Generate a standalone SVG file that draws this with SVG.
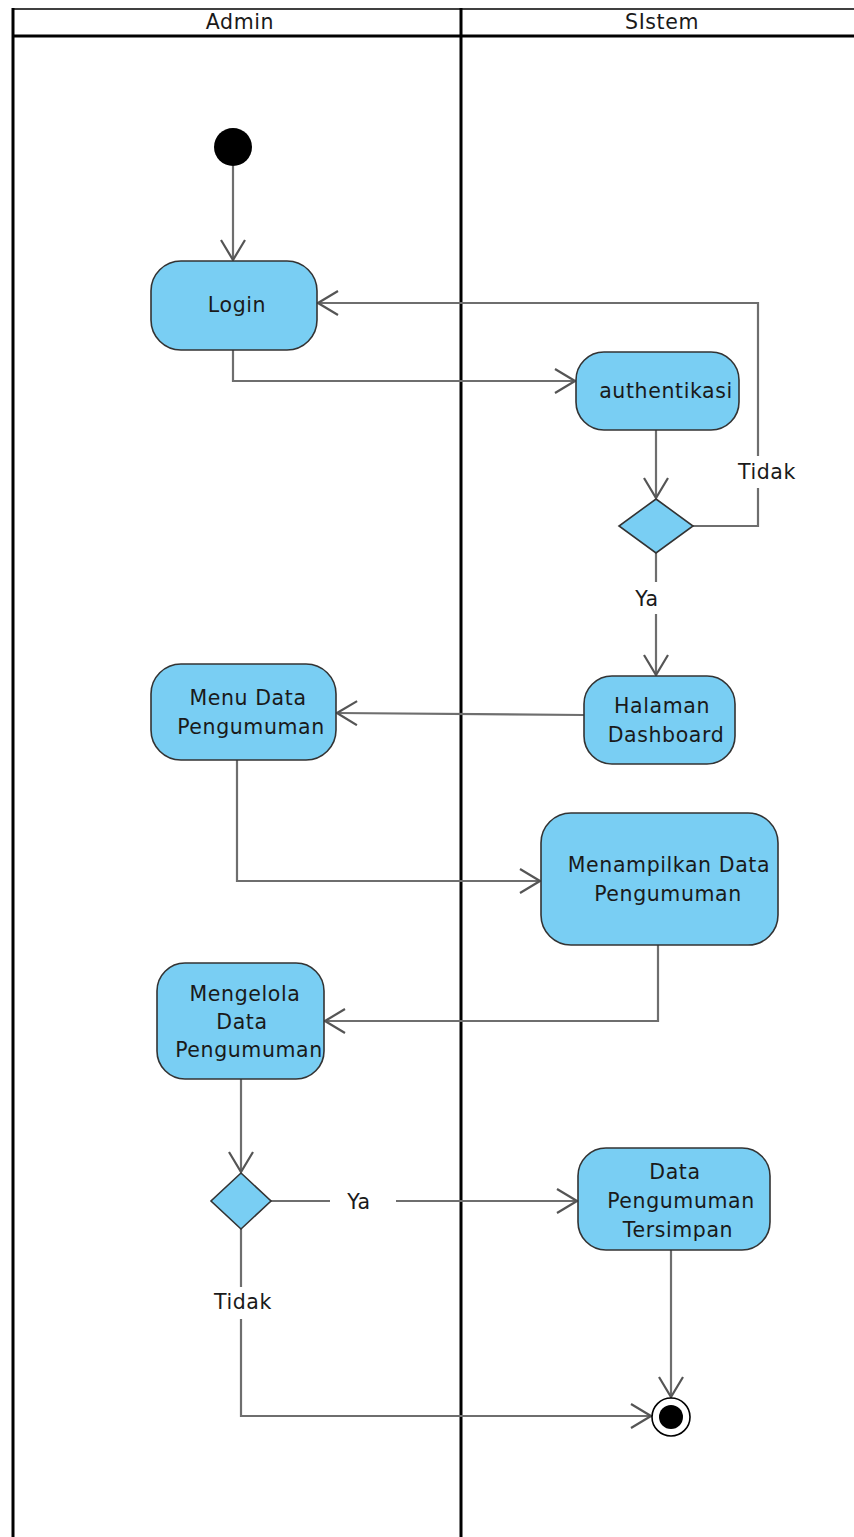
<svg xmlns="http://www.w3.org/2000/svg" width="854" height="1537" viewBox="0 0 854 1537">
<style>
.lane{stroke:#000;stroke-width:3;fill:none}
.node{fill:#79CEF3;stroke:#333;stroke-width:1.6}
.t{font-family:"DejaVu Sans",sans-serif;font-size:20.5px;letter-spacing:0.6px;fill:#1a1a1a;text-anchor:middle;dominant-baseline:central}
.c{fill:none;stroke:#6e6e6e;stroke-width:2.2}
.lbl{fill:#fff;stroke:none}
</style>
<defs>
<marker id="arr" viewBox="0 0 22 26" refX="21" refY="13" markerWidth="22" markerHeight="26" markerUnits="userSpaceOnUse" orient="auto">
<path d="M1,1 L21,13 L1,25" fill="none" stroke="#555" stroke-width="2.2"/>
</marker>
</defs>
<rect width="854" height="1537" fill="#fff"/>
<g id="lanes">
<line x1="13" y1="9" x2="854" y2="9" stroke="#000" stroke-width="1.5"/>
<line class="lane" x1="13" y1="36" x2="854" y2="36"/>
<line class="lane" x1="13" y1="8" x2="13" y2="1537"/>
<line class="lane" x1="461" y1="8" x2="461" y2="1537"/>
<text class="t" x="240" y="22">Admin</text>
<text class="t" x="662" y="22">SIstem</text>
</g>
<g id="connectors">
<path class="c" d="M233,166 L233,260" marker-end="url(#arr)"/>
<path class="c" d="M233,350 L233,381 L575,381" marker-end="url(#arr)"/>
<path class="c" d="M656,430 L656,498" marker-end="url(#arr)"/>
<path class="c" d="M693,526 L758,526 L758,303 L318,303" marker-end="url(#arr)"/>
<rect class="lbl" x="736" y="456" width="62" height="32"/>
<text class="t" x="767" y="472">Tidak</text>
<path class="c" d="M656,553 L656,675" marker-end="url(#arr)"/>
<rect class="lbl" x="630" y="582" width="34" height="32"/>
<text class="t" x="647" y="599">Ya</text>
<path class="c" d="M584,715 L337,713" marker-end="url(#arr)"/>
<path class="c" d="M237,760 L237,881 L540,881" marker-end="url(#arr)"/>
<path class="c" d="M658,945 L658,1021 L325,1021" marker-end="url(#arr)"/>
<path class="c" d="M241,1079 L241,1172" marker-end="url(#arr)"/>
<path class="c" d="M271,1201 L577,1201" marker-end="url(#arr)"/>
<rect class="lbl" x="330" y="1186" width="66" height="32"/>
<text class="t" x="359" y="1202">Ya</text>
<path class="c" d="M241,1229 L241,1416 L651,1416" marker-end="url(#arr)"/>
<rect class="lbl" x="210" y="1287" width="66" height="32"/>
<text class="t" x="243" y="1302">Tidak</text>
<path class="c" d="M671,1250 L671,1397" marker-end="url(#arr)"/>
</g>
<g id="start"><circle cx="233" cy="147" r="19" fill="#000"/></g>
<g id="login"><rect class="node" x="151" y="261" width="166" height="89" rx="30"/><text class="t" x="237" y="305">Login</text></g>
<g id="authentikasi"><rect class="node" x="576" y="352" width="163" height="78" rx="28"/><text class="t" x="666" y="391">authentikasi</text></g>
<g id="decision1"><polygon class="node" points="656,499 693,526 656,553 619,526"/></g>
<g id="halaman"><rect class="node" x="584" y="676" width="151" height="88" rx="28"/><text class="t" x="662" y="706">Halaman</text><text class="t" x="666" y="735">Dashboard</text></g>
<g id="menu"><rect class="node" x="151" y="664" width="185" height="96" rx="30"/><text class="t" x="248" y="698">Menu Data</text><text class="t" x="251" y="727">Pengumuman</text></g>
<g id="menampilkan"><rect class="node" x="541" y="813" width="237" height="132" rx="30"/><text class="t" x="669" y="865">Menampilkan Data</text><text class="t" x="668" y="894">Pengumuman</text></g>
<g id="mengelola"><rect class="node" x="157" y="963" width="167" height="116" rx="28"/><text class="t" x="245" y="994">Mengelola</text><text class="t" x="242" y="1022">Data</text><text class="t" x="249" y="1050">Pengumuman</text></g>
<g id="decision2"><polygon class="node" points="241,1173 271,1201 241,1229 211,1201"/></g>
<g id="tersimpan"><rect class="node" x="578" y="1148" width="192" height="102" rx="28"/><text class="t" x="675" y="1172">Data</text><text class="t" x="681" y="1201">Pengumuman</text><text class="t" x="678" y="1230">Tersimpan</text></g>
<g id="end"><circle cx="671" cy="1417" r="19" fill="#fff" stroke="#000" stroke-width="1.6"/><circle cx="671" cy="1417" r="12" fill="#000"/></g>
</svg>
